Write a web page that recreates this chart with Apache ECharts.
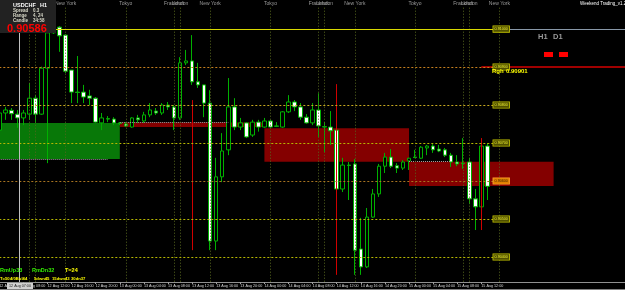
<!DOCTYPE html>
<html><head><meta charset="utf-8">
<script src="https://cdn.jsdelivr.net/npm/echarts/dist/echarts.min.js"></script>
<style>html,body{margin:0;padding:0;background:#000;overflow:hidden}#c{width:625px;height:290px}</style>
</head><body><div id="c"></div>
<script>
// ---- data (USDCHF H1) ----
const open  = [0.90734,0.90779,0.90786,0.90776,0.90766,0.90776,0.90818,0.90776,0.90897,0.90990,
0.91005,0.90984,0.90892,0.90834,0.90834,0.90824,0.90818,0.90753,0.90764,0.90763,
0.90753,0.90750,0.90742,0.90766,0.90758,0.90774,0.90784,0.90779,0.90800,0.90795,
0.90766,0.90911,0.90916,0.90861,0.90853,0.90805,0.90442,0.90611,0.90682,0.90795,
0.90742,0.90753,0.90721,0.90755,0.90742,0.90758,0.90745,0.90742,0.90782,0.90808,
0.90795,0.90768,0.90753,0.90787,0.90743,0.90742,0.90734,0.90579,0.90642,0.90645,
0.90421,0.90374,0.90505,0.90566,0.90639,0.90663,0.90640,0.90634,0.90653,0.90663,
0.90660,0.90687,0.90692,0.90684,0.90682,0.90668,0.90650,0.90647,0.90650,0.90553,
0.90532,0.90692];
const high  = [0.90782,0.90795,0.90792,0.90787,0.90787,0.90858,0.90826,0.90901,0.90997,0.91011,
0.91008,0.90987,0.90892,0.90929,0.90853,0.90840,0.90821,0.90779,0.90771,0.90768,
0.90755,0.90755,0.90768,0.90774,0.90782,0.90805,0.90792,0.90805,0.90808,0.90800,
0.90926,0.90945,0.90984,0.90911,0.90853,0.90839,0.90661,0.90726,0.90871,0.90818,
0.90766,0.90755,0.90761,0.90761,0.90766,0.90761,0.90755,0.90784,0.90826,0.90813,
0.90805,0.90776,0.90805,0.90831,0.90755,0.90784,0.90766,0.90661,0.90650,0.90658,
0.90503,0.90529,0.90579,0.90645,0.90674,0.90684,0.90647,0.90655,0.90661,0.90682,
0.90692,0.90695,0.90697,0.90695,0.90687,0.90674,0.90668,0.90713,0.90661,0.90579,
0.90700,0.90700];
const low   = [0.90732,0.90761,0.90761,0.90740,0.90747,0.90761,0.90753,0.90774,0.90647,0.90987,
0.90940,0.90884,0.90805,0.90805,0.90805,0.90800,0.90753,0.90734,0.90755,0.90747,
0.90747,0.90742,0.90740,0.90753,0.90753,0.90768,0.90774,0.90774,0.90787,0.90734,
0.90761,0.90905,0.90853,0.90845,0.90768,0.90418,0.90418,0.90597,0.90668,0.90734,
0.90734,0.90713,0.90716,0.90730,0.90740,0.90740,0.90742,0.90740,0.90779,0.90784,
0.90761,0.90751,0.90747,0.90716,0.90676,0.90695,0.90563,0.90571,0.90550,0.90353,
0.90353,0.90371,0.90503,0.90558,0.90621,0.90634,0.90621,0.90629,0.90629,0.90660,
0.90658,0.90668,0.90674,0.90676,0.90663,0.90637,0.90639,0.90632,0.90539,0.90471,
0.90518,0.90550];
const close = [0.90779,0.90787,0.90777,0.90766,0.90779,0.90818,0.90776,0.90897,0.90990,0.91008,
0.90982,0.90889,0.90834,0.90833,0.90821,0.90818,0.90755,0.90766,0.90763,0.90753,
0.90752,0.90745,0.90766,0.90761,0.90774,0.90787,0.90779,0.90800,0.90795,0.90766,
0.90911,0.90916,0.90861,0.90853,0.90805,0.90442,0.90611,0.90679,0.90795,0.90742,
0.90753,0.90716,0.90755,0.90742,0.90758,0.90742,0.90744,0.90782,0.90808,0.90795,
0.90768,0.90753,0.90787,0.90745,0.90742,0.90732,0.90579,0.90642,0.90641,0.90418,
0.90374,0.90505,0.90566,0.90639,0.90663,0.90639,0.90634,0.90650,0.90660,0.90662,
0.90689,0.90692,0.90682,0.90679,0.90668,0.90650,0.90645,0.90646,0.90553,0.90532,
0.90692,0.90586];
// time tick labels, one every 4 bars starting at bar 0
const tickLabels = ["12 Aug 04:00","12 Aug 08:00","12 Aug 12:00","12 Aug 16:00","12 Aug 20:00",
"13 Aug 00:00","13 Aug 04:00","13 Aug 08:00","13 Aug 12:00","13 Aug 16:00","13 Aug 20:00",
"14 Aug 00:00","14 Aug 04:00","14 Aug 08:00","14 Aug 12:00","14 Aug 16:00","14 Aug 20:00",
"15 Aug 00:00","15 Aug 04:00","15 Aug 08:00","15 Aug 12:00"];
// horizontal level lines (price)
const levels = [0.91000,0.90900,0.90800,0.90700,0.90600,0.90500,0.90400];
// session separators: bar index and name
const sessionBars  = [5,6,11,21,29,30,35,45,53,54,59,69,77,78,83];
const sessionNames = ["Frankfurt","London","New York","Tokyo","Frankfurt","London","New York","Tokyo","Frankfurt","London","New York","Tokyo","Frankfurt","London","New York"];
// zones: [startBar, endBar, topPrice, bottomPrice]
const greenZone = [0, 20, 0.90753, 0.90658];
const redZones = [[20, 44, 0.90754, 0.90742],[44, 68, 0.90739, 0.90651],[68, 92, 0.90651, 0.90587]];
// red vertical markers: [bar, top, bottom]
const redMarks = [[32, 0.90813, 0.90418],[56, 0.90855, 0.90353],[80, 0.90713, 0.90471]];
const currentPrice = 0.90586, greyLevel = 0.90739, rghLevel = 0.90901;
const yMin = 0.903342, yMax = 0.910764;

// ---- chart ----
const F = 'Liberation Sans, Arial, sans-serif';
const NB = 106;
const cats = Array.from({length: NB}, (_, i) => String(i));
const candles = open.map((o, i) => [o, close[i], low[i], high[i]]);
const lvlColors = ['#d8d800','#c8801e','#c8aa20','#b8b800','#a87420','#b8b800','#b8b800'];

const ml = [];
ml.push([{coord:[82, levels[0]], lineStyle:{color:'#d8d800', width:1, type:'solid'}, label:{show:false}}, {coord:[105, levels[0]]}]);
ml.push([{coord:[80, rghLevel], lineStyle:{color:'#a00000', width:2, type:'solid'}, label:{show:false}}, {coord:[105, rghLevel]}]);
ml.push({yAxis: greyLevel, lineStyle:{color:'#b4b4b4', width:1, type:'solid'}, label:{show:false}});
ml.push({yAxis: currentPrice, lineStyle:{color:'#8898a8', width:1, type:'solid'}, label:{show:false}});
ml.push([{coord:[0, greenZone[3]], lineStyle:{color:'#a0a0a0', width:1, type:[1,1]}, label:{show:false}}, {coord:[18, greenZone[3]]}]);
ml.push([{coord:[20, redZones[0][2]], lineStyle:{color:'#a0a0a0', width:1, type:[1,1]}, label:{show:false}}, {coord:[38, redZones[0][2]]}]);
ml.push([{coord:[68, redZones[2][2]], lineStyle:{color:'#a0a0a0', width:1, type:[1,1]}, label:{show:false}}, {coord:[75, redZones[2][2]]}]);
sessionBars.forEach((b, k) => {
  ml.push([{coord:[b, 0.90335], lineStyle:{color:'#56661e', width:1, type:[1,2]},
    label:{show:true, position:'end', distance:1, formatter: sessionNames[k], fontSize:5, fontFamily:F, color:'#9a9a9a'}},
    {coord:[b, 0.91058]}]);
});
redMarks.forEach(r => {
  ml.push([{coord:[r[0], r[1]], lineStyle:{color:'#d00000', width:1, type:'solid'}, label:{show:false}}, {coord:[r[0], r[2]]}]);
});
levels.forEach((v, k) => {
  const cur = (k === 4);
  ml.push([{coord:[0, v], lineStyle:{color: lvlColors[k], width:1, type: k === 0 ? 'solid' : [2,2]},
    label:{show:true, position:'end', distance:0, formatter: v.toFixed(5), fontSize:3.7, fontFamily:F,
      color: cur ? '#402000' : '#f0f030', backgroundColor: cur ? '#e08000' : '#505000',
      borderColor: cur ? '#ffa030' : '#c8c800', borderWidth:0.8, padding:[0.8,1.2]}},
    {coord:[82, v]}]);
});

const ma = [];
ma.push([{coord:[greenZone[0], greenZone[2]], itemStyle:{color:'#087808', opacity:1}}, {coord:[greenZone[1], greenZone[3]]}]);
redZones.forEach(z => ma.push([{coord:[z[0], z[2]], itemStyle:{color:'#840000', opacity:1}}, {coord:[z[1], z[3]]}]));

const showTick = (idx) => idx % 4 === 0 && idx / 4 < tickLabels.length;

const chart = echarts.init(document.getElementById('c'), null, {renderer:'canvas', width:625, height:290});
const T = (text, x, y, size, color, bold) => ({type:'text', z:100, silent:true,
  style:{text, x, y, fill:color, font:(bold ? 'bold ' : '') + size + 'px ' + F, textAlign:'left', textVerticalAlign:'top', verticalAlign:'top'}});

chart.setOption({
  animation:false,
  backgroundColor:'#000000',
  grid:{left:-3.7, top:0, width: NB * 6.025, height:282, containLabel:false, outerBoundsMode:'none'},
  xAxis:{type:'category', data:cats, boundaryGap:true,
    axisLine:{show:true, lineStyle:{color:'#909090', width:1}},
    axisTick:{show:true, interval: showTick, alignWithLabel:true, length:2, lineStyle:{color:'#a0a0a0'}},
    axisLabel:{show:true, interval: showTick, hideOverlap:false, align:'left', margin:1.5, fontSize:3.7, fontFamily:F, color:'#d8d8d8',
      formatter:(v, idx) => tickLabels[idx / 4] || ''},
    splitLine:{show:false}},
  yAxis:{type:'value', min:yMin, max:yMax, show:false, splitLine:{show:false}},
  series:[
    {type:'line', data:[], z:1, silent:true,
      markArea:{silent:true, label:{show:false}, data: ma},
      markLine:{silent:true, symbol:['none','none'], animation:false, data: ml}},
    {type:'candlestick', data:candles, z:3, barWidth:4, silent:true,
      itemStyle:{color:'#000000', color0:'#ffffff', borderColor:'#00b000', borderColor0:'#00b000', borderColorDoji:'#00b000', borderWidth:1}}
  ],
  graphic:[
    {type:'rect', z:90, silent:true, shape:{x:0, y:0, width:56, height:33}, style:{fill:'#222222'}},
    {type:'line', z:95, silent:true, shape:{x1:19.5, y1:33, x2:19.5, y2:282}, style:{stroke:'#c0c0c0', lineWidth:1}},
    T('USDCHF', 13, 2.5, 5.5, '#ffffff', true), T('H1', 40, 2.5, 5.5, '#ffffff', true),
    T('Spread', 13, 8, 4.5, '#d8d8c8', true), T('0.3', 33, 8, 4.5, '#d8d8c8', true),
    T('Range', 13, 13, 4.5, '#d8d8c8', true), T('4, 24', 33, 13, 4.5, '#d8d8c8', true),
    T('Candle', 13, 18, 4.5, '#d8d8c8', true), T('34:58', 33, 18, 4.5, '#d8d8c8', true),
    T('0.90586', 7, 23, 11, '#ff0000', true),
    T('Weekend Trading_v1.2', 580, 1, 4.5, '#ffffff', false),
    T('H1', 538, 33, 7.5, '#9a9a9a', true), T('D1', 553, 33, 7.5, '#9a9a9a', true),
    {type:'rect', z:100, silent:true, shape:{x:544, y:52, width:9, height:5}, style:{fill:'#ff0000'}},
    {type:'rect', z:100, silent:true, shape:{x:559, y:52, width:9, height:5}, style:{fill:'#ff0000'}},
    T('Rgh', 492, 68.5, 6, '#ffff00', true), T('0.90901', 506, 68.5, 6, '#ffff00', true),
    T('RmUp33', 0, 267, 5.5, '#33ee00', true), T('RmDn32', 32, 267, 5.5, '#33ee00', true), T('T=24', 65, 267, 5.5, '#ffff00', true),
    T('T=50', 0, 276.5, 4.2, '#ffff00', true), T('4/0Bul44', 10, 276.5, 4.2, '#ffff00', true),
    T('5dwn45', 34, 276.5, 4.2, '#ffff00', true), T('15dwn43', 52, 276.5, 4.2, '#ffff00', true), T('30dn37', 71, 276.5, 4.2, '#ffff00', true),
    {type:'rect', z:100, silent:true, shape:{x:7, y:283, width:26, height:6}, style:{fill:'#d0d0d0'}},
    T('12 Aug 07:00', 9, 283.6, 3.7, '#202020', false),
    {type:'line', z:100, silent:true, shape:{x1:0, y1:289.5, x2:625, y2:289.5}, style:{stroke:'#808080', lineWidth:1}}
  ]
});
</script>
</body></html>
